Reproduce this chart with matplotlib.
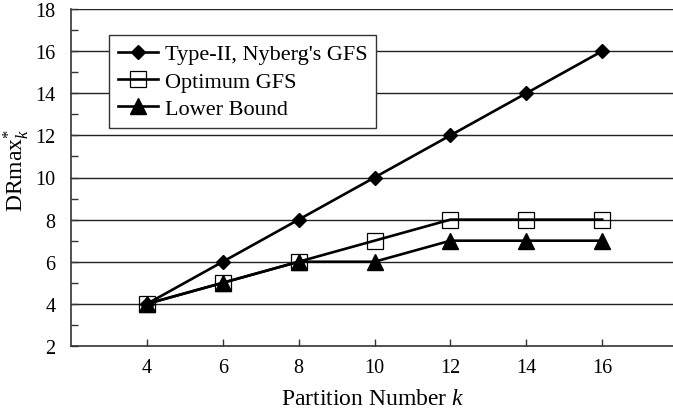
import matplotlib
matplotlib.use("Agg")
import matplotlib.pyplot as plt
from matplotlib.ticker import MultipleLocator

plt.rcParams['font.family'] = ['Liberation Serif', 'DejaVu Serif']
plt.rcParams['mathtext.fontset'] = 'custom'
plt.rcParams['mathtext.rm'] = 'Liberation Serif'
plt.rcParams['mathtext.it'] = 'Liberation Serif:italic'

k = [4, 6, 8, 10, 12, 14, 16]
type2 = [4, 6, 8, 10, 12, 14, 16]
optimum = [4, 5, 6, 7, 8, 8, 8]
lower = [4, 5, 6, 6, 7, 7, 7]
labels = ["Type-II, Nyberg's GFS", "Optimum GFS", "Lower Bound"]

fig = plt.figure(figsize=(6.73, 4.14), dpi=100)
W, H = 673, 414
x0, x1 = 71, 678
y0, y1 = 347, 10
ax = fig.add_axes([x0 / W, 1 - y0 / H, (x1 - x0) / W, (y0 - y1) / H])

ax.plot(k, type2, color='black', lw=1.9, marker='D', ms=7.5, mfc='black', mec='black', label=labels[0], zorder=3)
ax.plot(k, optimum, color='black', lw=1.9, marker='s', ms=12, mfc='none', mec='black', mew=0.9, label=labels[1], zorder=3)
ax.plot(k, lower, color='black', lw=1.9, marker='^', ms=11, mfc='black', mec='black', label=labels[2], zorder=3)

ax.set_xlim(2, 18)
ax.set_ylim(2, 18)
ax.set_xticks(k)
ax.yaxis.set_major_locator(MultipleLocator(2))
ax.yaxis.set_minor_locator(MultipleLocator(1))
for v in range(4, 19, 2):
    ax.axhline(v, color='#222222', lw=1.0, zorder=1)

for s in ['top', 'right']:
    ax.spines[s].set_visible(False)
for s in ['left', 'bottom']:
    ax.spines[s].set_color('#333333')
    ax.spines[s].set_linewidth(1.2)

ax.tick_params(axis='both', which='major', direction='in', length=5, width=1, labelsize=14.5, color='#333333', pad=9)
ax.tick_params(axis='y', which='minor', direction='in', length=5, width=1, color='#333333')
ax.tick_params(axis='y', which='major', pad=11)

ax.set_xlabel(r"Partition Number $\it{k}$", fontsize=17)
ax.xaxis.set_label_coords((373 - x0) / (x1 - x0), 1 - (400 - y1) / (y0 - y1))
ax.xaxis.label.set_va('center')
ax.set_ylabel(r"DRmax$^{*}_{k}$", fontsize=17)
ax.yaxis.set_label_coords(-(71 - 16) / (x1 - x0), 1 - (170 - y1) / (y0 - y1))
ax.yaxis.label.set_va('center')

leg = ax.legend(loc='upper left', bbox_to_anchor=((109 - x0) / (x1 - x0), 1 - (36 - y1) / (y0 - y1)),
                fontsize=16, frameon=True, fancybox=False, handlelength=1.8, handletextpad=0.3,
                borderpad=0.4, labelspacing=0.3, borderaxespad=0)
leg.get_frame().set_edgecolor('#333333')
leg.get_frame().set_linewidth(1.0)
leg.get_frame().set_alpha(1)

fig.savefig("out.png", dpi=100)
